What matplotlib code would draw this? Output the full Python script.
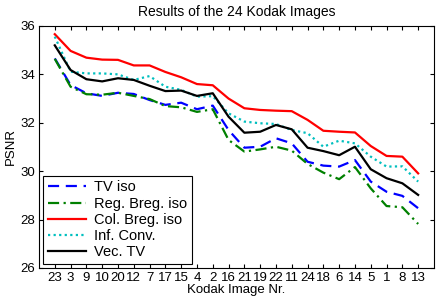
import numpy as np
import matplotlib
matplotlib.use('Agg')
import matplotlib.pyplot as plt

plt.rcParams['font.family'] = ['Liberation Sans', 'DejaVu Sans']

images = ['23', '3', '9', '10', '20', '12', '7', '17', '15', '4', '2', '16',
          '21', '19', '22', '11', '24', '18', '6', '14', '5', '1', '8', '13']

tv_iso = [34.66, 33.56, 33.22, 33.11, 33.24, 33.19, 32.94, 32.74, 32.83, 32.56, 32.71, 31.70,
          30.97, 31.01, 31.36, 31.15, 30.39, 30.23, 30.19, 30.46, 29.57, 29.15, 28.98, 28.47]
reg_breg = [34.64, 33.49, 33.18, 33.16, 33.24, 33.11, 32.98, 32.69, 32.64, 32.45, 32.56, 31.29,
            30.81, 30.90, 31.01, 30.85, 30.30, 29.94, 29.67, 30.17, 29.29, 28.56, 28.51, 27.82]
col_breg = [35.66, 34.97, 34.69, 34.61, 34.60, 34.37, 34.37, 34.10, 33.88, 33.60, 33.55, 33.00,
            32.60, 32.53, 32.50, 32.48, 32.12, 31.67, 31.63, 31.60, 31.04, 30.63, 30.60, 29.91]
inf_conv = [35.56, 34.11, 34.04, 34.04, 34.00, 33.77, 33.93, 33.49, 33.36, 33.08, 33.10, 32.39,
            32.05, 31.98, 31.95, 31.70, 31.57, 31.01, 31.26, 31.15, 30.60, 30.19, 30.20, 29.57]
vec_tv = [35.20, 34.18, 33.80, 33.71, 33.84, 33.77, 33.53, 33.31, 33.33, 33.11, 33.22, 32.25,
          31.59, 31.63, 31.91, 31.73, 30.97, 30.83, 30.66, 31.01, 30.08, 29.71, 29.50, 29.02]

x = np.arange(1, len(images) + 1)

fig = plt.figure(figsize=(4.41, 3.02), dpi=100)
ax = fig.add_axes([0.0884, 0.1126, 0.8956, 0.8014])

lw = 1.6
ax.plot(x, tv_iso, color='blue', linestyle=(0, (5, 3)), linewidth=lw, label='TV iso')
ax.plot(x, reg_breg, color='green', linestyle=(0, (5, 2, 1, 2)), linewidth=lw, label='Reg. Breg. iso')
ax.plot(x, col_breg, color='red', linestyle='-', linewidth=lw, label='Col. Breg. iso')
ax.plot(x, inf_conv, color='c', linestyle=(0, (1, 1.5)), linewidth=lw, label='Inf. Conv.')
ax.plot(x, vec_tv, color='black', linestyle='-', linewidth=lw, label='Vec. TV')

ax.set_xlim(0, 25)
ax.set_ylim(26, 36)
ax.set_xticks(x)
ax.set_xticklabels(images)
ax.set_yticks([26, 28, 30, 32, 34, 36])
ax.tick_params(direction='in', top=True, right=True, labelsize=9.5, length=3, pad=3)
ax.set_xlabel('Kodak Image Nr.', fontsize=9.5, labelpad=0)
ax.set_ylabel('PSNR', fontsize=9.5, labelpad=2)
ax.set_title('Results of the 24 Kodak Images', fontsize=10, pad=7)

leg = ax.legend(loc='lower left', fontsize=10.5, fancybox=False, framealpha=1,
                edgecolor='black', handlelength=2.6, borderpad=0.3, labelspacing=0.15,
                handletextpad=0.6, borderaxespad=0.3)
leg.get_frame().set_linewidth(0.8)

fig.savefig('out.png', dpi=100)
